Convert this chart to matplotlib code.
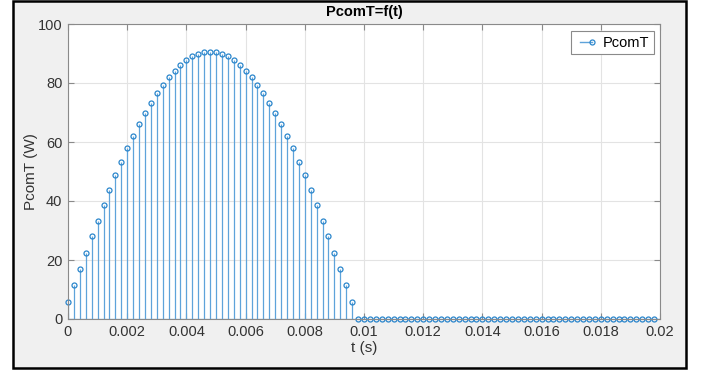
import numpy as np
import matplotlib.pyplot as plt
from matplotlib.patches import Rectangle
from matplotlib.lines import Line2D
from matplotlib.legend_handler import HandlerLine2D

# sample times (s), one every 0.2 ms
t = np.arange(0, 0.0199, 0.0002)

p_pulse = [5.8, 11.4, 16.9, 22.5, 28.1, 33.2, 38.5, 43.6, 48.7, 53.2,
           57.9, 62.0, 66.1, 69.7, 73.2, 76.5, 79.4, 81.9, 84.2, 86.1,
           87.8, 89.0, 89.9, 90.5, 90.6, 90.5, 89.9, 89.0, 87.8, 86.1,
           84.2, 81.9, 79.4, 76.5, 73.2, 69.7, 66.1, 62.0, 57.9, 53.2,
           48.7, 43.6, 38.5, 33.2, 28.1, 22.5, 16.9, 11.4, 5.8]
p_zero = [0.0] * (len(t) - len(p_pulse))
pcomt = np.array(p_pulse + p_zero)

xticks = [0, 0.002, 0.004, 0.006, 0.008, 0.01, 0.012, 0.014, 0.016, 0.018, 0.02]
xticklabels = ['0', '0.002', '0.004', '0.006', '0.008', '0.01', '0.012',
               '0.014', '0.016', '0.018', '0.02']
yticks = [0, 20, 40, 60, 80, 100]

blue = '#2b86cc'
stemblue = '#5ea3da'
gray = '#8a8a8a'
txt = '#333333'


# marker only at the right end of the legend line, like matlab's stem
class EndMarkerHandler(HandlerLine2D):
    def create_artists(self, *args, **kwargs):
        arts = super().create_artists(*args, **kwargs)
        for a in arts:
            a.set_markevery([len(a.get_xdata()) - 1])
        return arts


plt.rcParams['font.family'] = ['Liberation Sans', 'DejaVu Sans']

fig = plt.figure(figsize=(7.04, 3.73), dpi=100, facecolor='white')
# gray figure panel with black frame
fig.patches.append(Rectangle((13 / 704, 5 / 373), 673 / 704, 367 / 373,
                             transform=fig.transFigure, facecolor='#f0f0f0',
                             edgecolor='black', linewidth=1.8, zorder=-10))

ax = fig.add_axes([68 / 704, 54 / 373, 592 / 704, 295 / 373])
ax.set_facecolor('white')

markerline, stemlines, baseline = ax.stem(t, pcomt, basefmt=' ')
stemlines.set_color(stemblue)
stemlines.set_linewidth(0.9)
markerline.set_marker('o')
markerline.set_markersize(3.6)
markerline.set_markerfacecolor('none')
markerline.set_markeredgecolor(blue)
markerline.set_markeredgewidth(0.9)
markerline.set_clip_on(False)
ax.axhline(0, color=stemblue, linewidth=0.9, zorder=1)

ax.set_xlim(0, 0.02)
ax.set_ylim(0, 100)
ax.set_xticks(xticks, xticklabels)
ax.set_yticks(yticks)
ax.grid(True, color='#e3e3e3', linewidth=0.8)
ax.set_axisbelow(True)
ax.tick_params(direction='in', length=4, width=0.8, color=gray,
               labelsize=10.5, labelcolor=txt, top=True, right=True, pad=4)
for s in ax.spines.values():
    s.set_color(gray)
    s.set_linewidth(0.8)

ax.set_title('PcomT=f(t)', fontsize=10.5, fontweight='bold', color='black', pad=6)
ax.set_xlabel('t (s)', fontsize=11, color=txt, labelpad=2)
ax.set_ylabel('PcomT (W)', fontsize=11, color=txt, labelpad=0)

proxy = Line2D([], [], color=stemblue, linewidth=1.0, marker='o', markersize=3.6,
               markerfacecolor='none', markeredgecolor=blue, markeredgewidth=0.9)
leg = ax.legend([proxy], ['PcomT'], loc='upper right', numpoints=2,
                handler_map={Line2D: EndMarkerHandler()},
                fontsize=10.5, fancybox=False, framealpha=1, edgecolor=gray,
                handlelength=1.4, handletextpad=0.5, borderpad=0.3,
                borderaxespad=0, bbox_to_anchor=(0.99, 0.975))
leg.get_frame().set_linewidth(0.8)

fig.savefig('out.png', dpi=100, facecolor=fig.get_facecolor())
